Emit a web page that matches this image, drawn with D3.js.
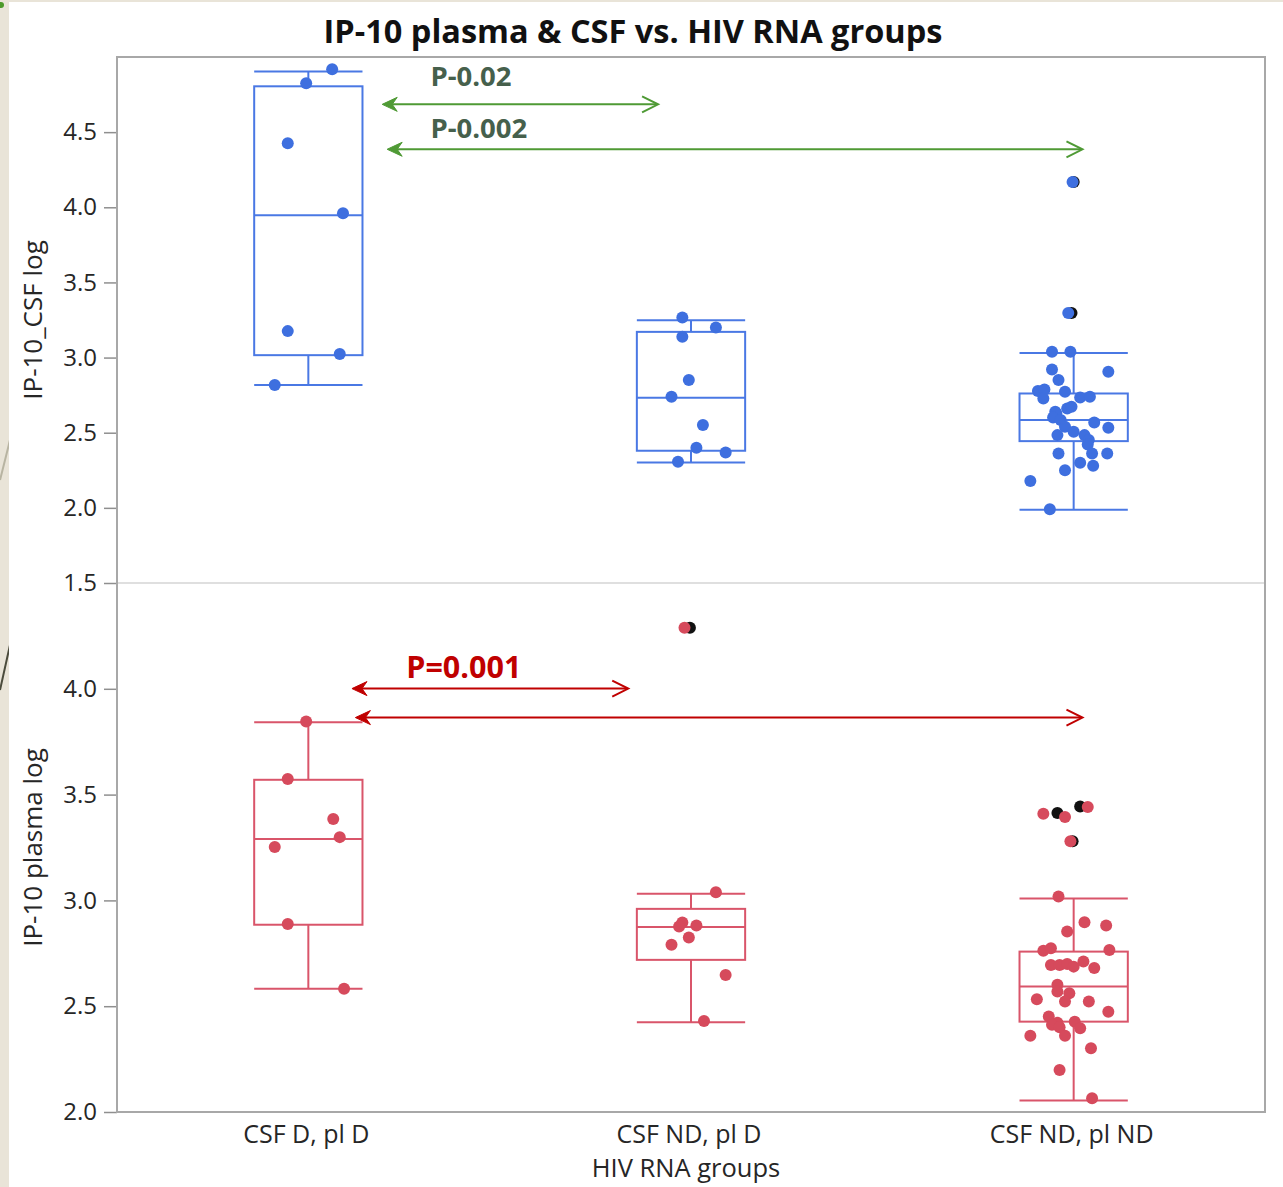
<!DOCTYPE html>
<html>
<head>
<meta charset="utf-8">
<script src="https://cdn.jsdelivr.net/npm/d3@7"></script>
<style>
  html, body { margin: 0; padding: 0; background: #e9e4d8; }
  svg { display: block; }
</style>
</head>
<body>
<div id="vis"></div>
<script>
(function () {
  'use strict';

  var WIDTH = 1283;
  var HEIGHT = 1187;

  var GROUPS = ['CSF D, pl D', 'CSF ND, pl D', 'CSF ND, pl ND'];
  var CSF_TICKS = [1.5, 2.0, 2.5, 3.0, 3.5, 4.0, 4.5];
  var PLASMA_TICKS = [2.0, 2.5, 3.0, 3.5, 4.0];

  // box stats per group: [whisker low, q1, median, q3, whisker high]
  var CSF_BOX = [
    [2.817, 3.016, 3.947, 4.805, 4.904],
    [2.302, 2.380, 2.732, 3.171, 3.249],
    [1.987, 2.444, 2.584, 2.761, 3.031]
  ];
  var PLASMA_BOX = [
    [2.582, 2.885, 3.290, 3.570, 3.842],
    [2.424, 2.719, 2.874, 2.960, 3.031],
    [2.054, 2.427, 2.593, 2.758, 3.009]
  ];

  // points per group: [log value, jitter as share of box width]
  var CSF_POINTS = [
    [[4.918, 0.22], [4.825, -0.02], [4.426, -0.19], [3.960, 0.32], [3.176, -0.19], [3.023, 0.29], [2.817, -0.31]],
    [[3.267, -0.08], [3.200, 0.23], [3.138, -0.08], [2.850, -0.02], [2.739, -0.18], [2.551, 0.11],
     [2.400, 0.05], [2.369, 0.32], [2.307, -0.12]],
    [[4.168, -0.01], [3.297, -0.05], [3.038, -0.20], [3.038, -0.03], [2.921, -0.20], [2.905, 0.32],
     [2.850, -0.14], [2.777, -0.33], [2.788, -0.27], [2.728, -0.28], [2.772, -0.08], [2.734, 0.06],
     [2.739, 0.15], [2.661, -0.06], [2.673, -0.02], [2.639, -0.17], [2.628, -0.16], [2.602, -0.19],
     [2.584, -0.12], [2.568, 0.19], [2.540, -0.08], [2.533, 0.32], [2.506, 0.00], [2.484, -0.15],
     [2.484, 0.10], [2.451, 0.14], [2.422, 0.13], [2.362, -0.14], [2.362, 0.17], [2.362, 0.31],
     [2.300, 0.06], [2.280, 0.18], [2.251, -0.08], [2.178, -0.40], [1.990, -0.22]]
  ];
  var PLASMA_POINTS = [
    [[3.846, -0.02], [3.574, -0.19], [3.385, 0.23], [3.299, 0.29], [3.252, -0.31], [2.888, -0.19], [2.582, 0.33]],
    [[4.289, -0.06], [3.039, 0.23], [2.896, -0.08], [2.877, -0.11], [2.881, 0.05], [2.825, -0.02],
     [2.790, -0.18], [2.648, 0.32], [2.430, 0.12]],
    [[3.410, -0.28], [3.394, -0.08], [3.441, 0.13], [3.279, -0.03], [3.018, -0.14], [2.897, 0.10],
     [2.881, 0.30], [2.853, -0.06], [2.762, -0.28], [2.774, -0.21], [2.766, 0.33], [2.695, -0.21],
     [2.695, -0.13], [2.699, -0.06], [2.687, 0.00], [2.711, 0.09], [2.680, 0.19], [2.601, -0.15],
     [2.569, -0.15], [2.561, -0.04], [2.522, -0.08], [2.533, -0.34], [2.522, 0.14], [2.474, 0.32],
     [2.451, -0.23], [2.422, -0.15], [2.412, -0.20], [2.427, 0.01], [2.396, 0.06], [2.401, -0.13],
     [2.360, -0.40], [2.360, -0.08], [2.301, 0.16], [2.199, -0.13], [2.065, 0.17]]
  ];
  // highlighted (black) rows sitting under the coloured markers
  var CSF_BLACK = [[], [], [[4.168, 0.00], [3.297, -0.02]]];
  var PLASMA_BLACK = [[], [[4.289, -0.01]], [[3.413, -0.15], [3.444, 0.06], [3.279, -0.01]]];

  // significance annotations, x in group index units, v in log units
  var CSF_ARROWS = [{ x0: 0.193, x1: 0.914, v: 4.685 }, { x0: 0.206, x1: 2.023, v: 4.386 }];
  var CSF_LABELS = [{ text: 'P-0.02', x: 0.319, v: 4.878 }, { text: 'P-0.002', x: 0.319, v: 4.532 }];
  var PLASMA_ARROWS = [{ x0: 0.114, x1: 0.836, v: 4.001 }, { x0: 0.123, x1: 2.023, v: 3.864 }];
  var PLASMA_LABELS = [{ text: 'P=0.001', x: 0.256, v: 4.110 }];

  var FONT = '"Open Sans", "Noto Sans", sans-serif';
  var LEFT = 117, RIGHT = 1265, TOP = 57, MID = 583, BOTTOM = 1112;

  var svg = d3.select('#vis').append('svg')
    .attr('width', WIDTH)
    .attr('height', HEIGHT)
    .style('font-family', FONT);

  // beige slide edge + white canvas
  svg.append('rect').attr('width', WIDTH).attr('height', HEIGHT).attr('fill', '#e9e4d8');
  svg.append('line').attr('x1', 0).attr('y1', 480).attr('x2', 10).attr('y2', 440)
    .attr('stroke', '#b8b4a2').attr('stroke-width', 2);
  svg.append('line').attr('x1', 0).attr('y1', 690).attr('x2', 10).attr('y2', 645)
    .attr('stroke', '#4b4b3c').attr('stroke-width', 2);
  svg.append('circle').attr('cx', 1).attr('cy', 5).attr('r', 3).attr('fill', '#4c9a2a');
  svg.append('rect').attr('x', 9).attr('y', 2).attr('width', WIDTH - 9).attr('height', HEIGHT - 2)
    .attr('fill', '#ffffff');

  var x = d3.scaleBand().domain(GROUPS).range([LEFT, RIGHT]).padding(0);
  var center = function (g) { return x(g) + x.bandwidth() / 2; };
  var boxW = x.bandwidth() * 0.283;
  var jitter = d3.scaleLinear().domain([-0.5, 0.5]).range([-boxW / 2, boxW / 2]);
  var pos = d3.scaleLinear().domain([0, 2]).range([center(GROUPS[0]), center(GROUPS[2])]);

  var yCsf = d3.scaleLinear().domain([1.5, 5.0]).range([MID, TOP]);
  var yPlasma = d3.scaleLinear().domain([2.0, 4.5]).range([BOTTOM, MID]);

  // title
  svg.append('text')
    .attr('x', 633).attr('y', 30)
    .attr('text-anchor', 'middle').attr('dominant-baseline', 'central')
    .attr('font-size', 32.5).attr('font-weight', 'bold').attr('fill', '#111')
    .text('IP-10 plasma & CSF vs. HIV RNA groups');

  function drawAxis(y, ticks) {
    var g = svg.append('g')
      .attr('transform', 'translate(' + LEFT + ',0)')
      .call(d3.axisLeft(y).tickValues(ticks).tickFormat(d3.format('.1f')).tickSize(13).tickPadding(7));
    g.select('.domain').remove();
    g.selectAll('.tick line').attr('stroke', '#8f8f8f').attr('stroke-width', 1.5);
    g.selectAll('.tick text').attr('fill', '#262626').attr('font-size', 24).style('font-family', FONT);
  }
  drawAxis(yCsf, CSF_TICKS);
  drawAxis(yPlasma, PLASMA_TICKS);

  // panel separator
  svg.append('line')
    .attr('x1', LEFT).attr('x2', RIGHT).attr('y1', yCsf(1.5)).attr('y2', yCsf(1.5))
    .attr('stroke', '#d4d4d4').attr('stroke-width', 1.5);

  function drawPanel(y, boxes, points, black, color, dotColor) {
    var g = svg.append('g');
    GROUPS.forEach(function (grp, i) {
      var cx = center(grp);
      var b = boxes[i];
      var box = g.append('g').attr('stroke', color).attr('stroke-width', 2).attr('fill', 'none');
      box.append('rect')
        .attr('x', cx - boxW / 2).attr('y', y(b[3]))
        .attr('width', boxW).attr('height', y(b[1]) - y(b[3]));
      box.append('line').attr('x1', cx - boxW / 2).attr('x2', cx + boxW / 2)
        .attr('y1', y(b[2])).attr('y2', y(b[2]));
      box.append('line').attr('x1', cx).attr('x2', cx).attr('y1', y(b[3])).attr('y2', y(b[4]));
      box.append('line').attr('x1', cx).attr('x2', cx).attr('y1', y(b[1])).attr('y2', y(b[0]));
      [b[0], b[4]].forEach(function (v) {
        box.append('line').attr('x1', cx - boxW / 2).attr('x2', cx + boxW / 2)
          .attr('y1', y(v)).attr('y2', y(v));
      });

      g.selectAll(null).data(black[i]).enter().append('circle')
        .attr('cx', function (d) { return cx + jitter(d[1]); })
        .attr('cy', function (d) { return y(d[0]); })
        .attr('r', 6).attr('fill', '#111');
      g.selectAll(null).data(points[i]).enter().append('circle')
        .attr('cx', function (d) { return cx + jitter(d[1]); })
        .attr('cy', function (d) { return y(d[0]); })
        .attr('r', 6).attr('fill', dotColor);
    });
  }
  drawPanel(yCsf, CSF_BOX, CSF_POINTS, CSF_BLACK, '#4a78e4', '#3e6fdf');
  drawPanel(yPlasma, PLASMA_BOX, PLASMA_POINTS, PLASMA_BLACK, '#d9556a', '#d64a5c');

  function drawArrows(y, arrows, labels, color, textColor, fontSize) {
    arrows.forEach(function (a) {
      var xa = pos(a.x0), xb = pos(a.x1), yy = y(a.v);
      svg.append('line').attr('x1', xa + 4).attr('x2', xb - 1).attr('y1', yy).attr('y2', yy)
        .attr('stroke', color).attr('stroke-width', 2);
      // barbed head on the left
      svg.append('path')
        .attr('d', 'M' + xa + ',' + yy + 'L' + (xa + 15) + ',' + (yy - 7) +
          'L' + (xa + 10) + ',' + yy + 'L' + (xa + 15) + ',' + (yy + 7) + 'Z')
        .attr('fill', color).attr('stroke', color).attr('stroke-width', 1);
      // open chevron on the right
      svg.append('path')
        .attr('d', 'M' + (xb - 16) + ',' + (yy - 8) + 'L' + xb + ',' + yy + 'L' + (xb - 16) + ',' + (yy + 8))
        .attr('fill', 'none').attr('stroke', color).attr('stroke-width', 2);
    });
    labels.forEach(function (l) {
      svg.append('text')
        .attr('x', pos(l.x)).attr('y', y(l.v))
        .attr('dominant-baseline', 'central')
        .attr('font-size', fontSize).attr('font-weight', 'bold').attr('fill', textColor)
        .text(l.text);
    });
  }
  drawArrows(yCsf, CSF_ARROWS, CSF_LABELS, '#4f9a35', '#46604c', 27.5);
  drawArrows(yPlasma, PLASMA_ARROWS, PLASMA_LABELS, '#c00000', '#c00000', 30.5);

  // frame
  svg.append('rect')
    .attr('x', LEFT).attr('y', TOP).attr('width', RIGHT - LEFT).attr('height', BOTTOM - TOP)
    .attr('fill', 'none').attr('stroke', '#a8a8a8').attr('stroke-width', 2);

  // category labels
  svg.append('g').selectAll('text').data(GROUPS).enter().append('text')
    .attr('x', function (d) { return center(d) - 2; })
    .attr('y', 1133)
    .attr('text-anchor', 'middle').attr('dominant-baseline', 'central')
    .attr('font-size', 25).attr('fill', '#262626')
    .text(function (d) { return d; });

  svg.append('text')
    .attr('x', 686).attr('y', 1167)
    .attr('text-anchor', 'middle').attr('dominant-baseline', 'central')
    .attr('font-size', 25.5).attr('fill', '#262626')
    .text('HIV RNA groups');

  var yTitles = [['IP-10_CSF log', (TOP + MID) / 2], ['IP-10 plasma log', (MID + BOTTOM) / 2]];
  yTitles.forEach(function (t) {
    svg.append('text')
      .attr('transform', 'translate(32,' + t[1] + ') rotate(-90)')
      .attr('text-anchor', 'middle').attr('dominant-baseline', 'central')
      .attr('font-size', 26).attr('fill', '#262626')
      .text(t[0]);
  });
})();
</script>
</body>
</html>
